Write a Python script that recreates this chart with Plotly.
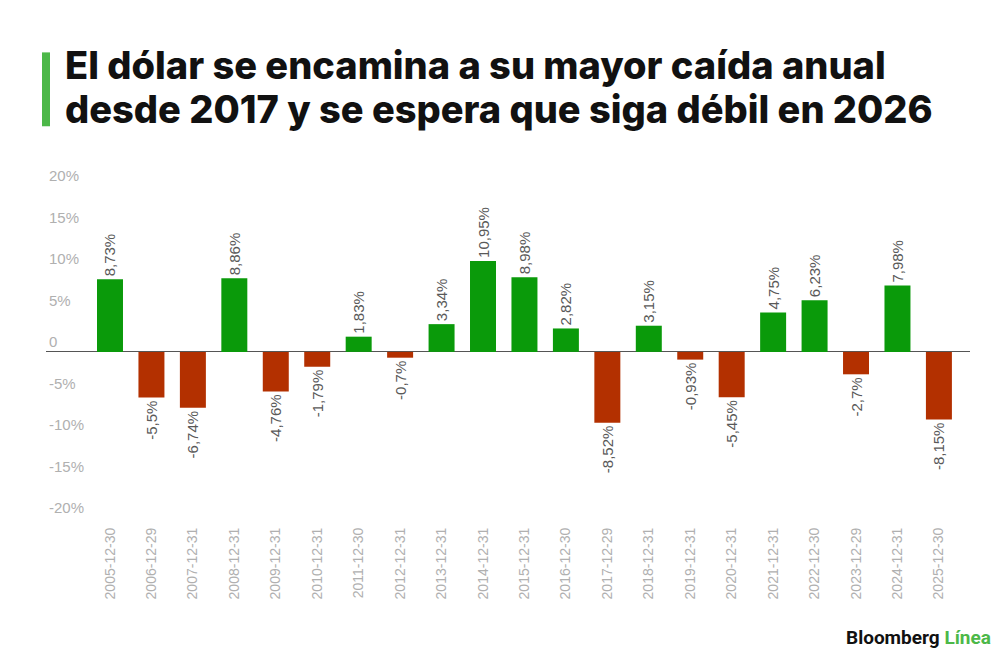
import plotly.graph_objects as go

# Cierre anual del índice del dólar, variación %
fechas = [
    "2005-12-30", "2006-12-29", "2007-12-31", "2008-12-31", "2009-12-31",
    "2010-12-31", "2011-12-30", "2012-12-31", "2013-12-31", "2014-12-31",
    "2015-12-31", "2016-12-30", "2017-12-29", "2018-12-31", "2019-12-31",
    "2020-12-31", "2021-12-31", "2022-12-30", "2023-12-29", "2024-12-31",
    "2025-12-30",
]
variacion = [
    8.73, -5.5, -6.74, 8.86, -4.76,
    -1.79, 1.83, -0.7, 3.34, 10.95,
    8.98, 2.82, -8.52, 3.15, -0.93,
    -5.45, 4.75, 6.23, -2.7, 7.98,
    -8.15,
]
y_ticks = [-20, -15, -10, -5, 0, 5, 10, 15, 20]
y_ticktext = ["-20%", "-15%", "-10%", "-5%", "0", "5%", "10%", "15%", "20%"]

VERDE = "#0a9a0a"
ROJO = "#b33000"
colores = [VERDE if v > 0 else ROJO for v in variacion]
etiquetas = [f"{v}".replace(".", ",") + "%" for v in variacion]

# la página añade 8px de margen al body, se compensa aquí
Y_MIN, Y_MAX = -20, 22.5
PX_PCT = 8.32
L, W = 38, 924
H = (Y_MAX - Y_MIN) * PX_PCT
T = (352 - 8) - Y_MAX * PX_PCT


def px(x):
    return (x - 8 - L) / W


def py(y):
    return (T + H - (y - 8)) / H


fig = go.Figure()
fig.add_trace(go.Bar(
    x=fechas,
    y=variacion,
    marker=dict(color=colores, line=dict(width=0)),
    text=etiquetas,
    textposition="outside",
    textangle=-90,
    constraintext="none",
    textfont=dict(family="Liberation Sans", size=15, color="#595959"),
    cliponaxis=False,
    hovertemplate="%{x}: %{text}<extra></extra>",
))

# Título en dos líneas y barra verde
titulo = ["El dólar se encamina a su mayor caída anual",
          "desde 2017 y se espera que siga débil en 2026"]
for linea, yc in zip(titulo, [65, 109]):
    fig.add_annotation(
        text=linea,
        xref="paper", yref="paper", x=px(63), y=py(yc),
        xanchor="left", yanchor="middle", showarrow=False,
        font=dict(family="Inter", size=38, weight=800, color="#111111"),
    )
fig.add_shape(
    type="rect", xref="paper", yref="paper",
    x0=px(42), x1=px(50), y0=py(126), y1=py(52),
    fillcolor="#4cb848", line=dict(width=0),
)

# Logo
fig.add_annotation(
    text="<b>Bloomberg</b> <span style='color:#4cb848'><b>Línea</b></span>",
    xref="paper", yref="paper", x=px(993), y=py(638),
    xanchor="right", yanchor="middle", showarrow=False,
    font=dict(family="Roboto", size=19, color="#111111"),
)

fig.update_layout(
    width=1000,
    height=651,
    margin=dict(l=L, r=1000 - L - W, t=T, b=651 - T - H),
    paper_bgcolor="white",
    plot_bgcolor="white",
    bargap=0.373,
    showlegend=False,
    xaxis=dict(
        type="category",
        range=[-1.544, 20.75],
        tickangle=-90,
        tickfont=dict(family="Liberation Sans", size=14, color="#b0b0b0"),
        showgrid=False,
        showline=False,
        ticks="",
        ticklabelstandoff=6,
        automargin=False,
    ),
    yaxis=dict(
        range=[Y_MIN, Y_MAX],
        tickvals=y_ticks,
        ticktext=y_ticktext,
        ticklabelposition="inside",
        ticklabelshift=-10,
        tickfont=dict(family="Liberation Sans", size=15, color="#b0b0b0"),
        showgrid=False,
        zeroline=True,
        zerolinecolor="#555555",
        zerolinewidth=1,
        ticks="",
        automargin=False,
    ),
)

fig.write_html("out.html")
